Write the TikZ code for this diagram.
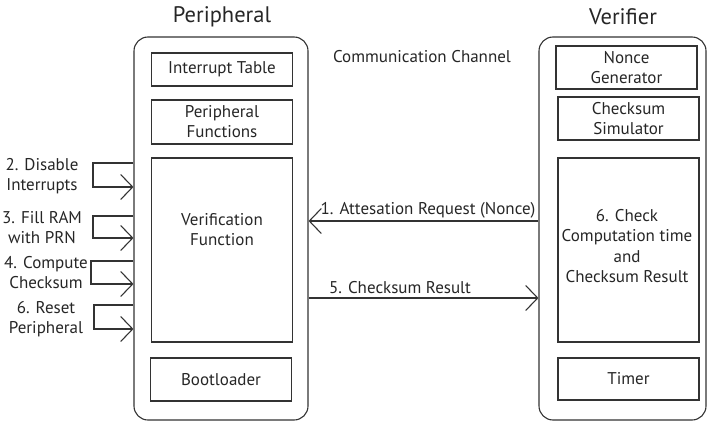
\documentclass[tikz,border=0pt]{standalone}
\usepackage{fontspec}
\setmainfont{PT Sans}
\usetikzlibrary{arrows.meta}
\begin{document}
\begin{tikzpicture}[x=1pt,y=-1pt,
  every node/.style={font=\fontsize{17}{20}\selectfont, text=black!85, inner sep=0pt},
  outerbox/.style={draw=black!80, line width=1.1pt, rounded corners=14pt, minimum width=#1, minimum height=383pt},
  innerbox/.style={draw=black!80, line width=1.1pt, minimum width=141pt, align=center},
  title/.style={font=\fontsize{22.5}{24}\selectfont},
  lbl/.style={align=center},
  arr/.style={draw=black!80, line width=1.1pt, -{Straight Barb[length=12pt,width=25pt]}},
  ln/.style={draw=black!80, line width=1.1pt}]
\useasboundingbox (0,0) rectangle (708,422);
% outer boxes
\node[outerbox=174pt] (per) at (221,228.5) {};
\node[outerbox=167pt] (ver) at (622.5,228.5) {};
\node[title] (pt) at (222,17) {Peripheral};
\node[title] (vt) at (623,17) {Verifier};
\node (cc) at (422,57) {Communication Channel};
% peripheral inner
\node[innerbox, minimum height=33pt] (it) at (222,69.5) {Interrupt Table};
\node[innerbox, minimum height=44pt] (pf) at (222,122) {Peripheral\\Functions};
\node[innerbox, minimum height=184pt] (vf) at (222,250) {};
\node (vft) at (222,230) [align=center] {Verification\\Function};
\node[innerbox, minimum height=43pt] (bl) at (221,379.5) {Bootloader};
% verifier inner
\node[innerbox, minimum height=43pt] (ng) at (626.5,67.5) {Nonce\\Generator};
\node[innerbox, minimum height=43pt] (cs) at (628.5,118.5) {Checksum\\Simulator};
\node[innerbox, minimum height=184pt] (cr) at (628.5,250) {};
\node (crt) at (627,246) [align=center, font=\fontsize{17}{20.5}\selectfont] {6. Check\\Computation time\\and\\Checksum Result};
\node[innerbox, minimum height=42pt] (tm) at (628.5,379) {Timer};
% channel arrows
\draw[arr] (ver.west |- 0,221) -- (per.east |- 0,221);
\node (l1) at (428,210) {1. Attesation Request (Nonce)};
\draw[arr] (per.east |- 0,298) -- (ver.west |- 0,298);
\node (l5) at (400,288) {5. Checksum Result};
% left steps
\node[lbl] (s2) at (42,176) {2. Disable\\Interrupts};
\draw[arr] (per.west |- 0,163) -- (93,163) -- (93,187) -- (per.west |- 0,187);
\node[lbl] (s3) at (42,228) {3. Fill RAM\\with PRN};
\draw[arr] (per.west |- 0,216) -- (93,216) -- (93,238) -- (per.west |- 0,238);
\node[lbl] (s4) at (46,273) {4. Compute\\Checksum};
\draw[arr] (per.west |- 0,261) -- (91,261) -- (91,284) -- (per.west |- 0,284);
\node[lbl] (s6) at (46,319) {6. Reset\\Peripheral};
\draw[arr] (per.west |- 0,305) -- (94,305) -- (94,329) -- (per.west |- 0,329);
\end{tikzpicture}
\end{document}
